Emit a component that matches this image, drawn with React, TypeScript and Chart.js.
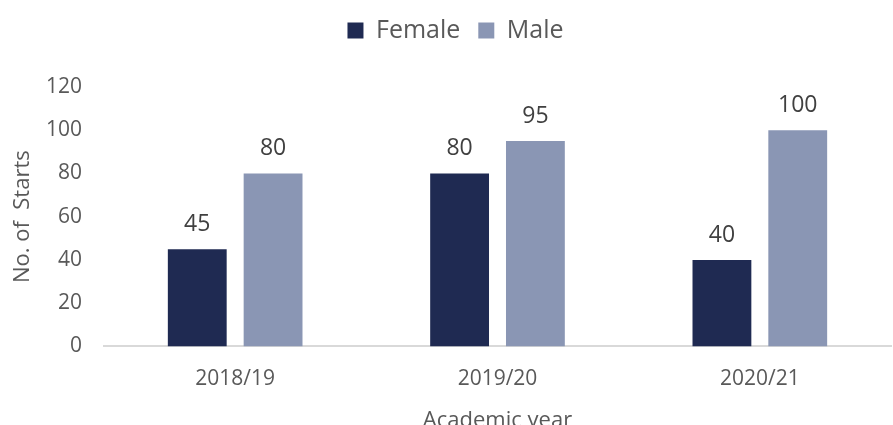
import React, { useEffect, useRef } from "react";
import { Chart, registerables } from "chart.js";

Chart.register(...registerables);

const categories = ["2018/19", "2019/20", "2020/21"];
const femaleValues = [45, 80, 40];
const maleValues = [80, 95, 100];
const seriesNames = ["Female", "Male"];
const yTicks = [0, 20, 40, 60, 80, 100, 120];

const FONT = "'Open Sans', 'Liberation Sans', sans-serif";
const TEXT = "#595959";

const valueLabels = {
  id: "valueLabels",
  afterDatasetsDraw(chart: any) {
    const ctx = chart.ctx;
    ctx.save();
    ctx.font = `23px ${FONT}`;
    ctx.fillStyle = "#404040";
    ctx.textAlign = "center";
    ctx.textBaseline = "alphabetic";
    chart.data.datasets.forEach((ds: any, i: number) => {
      const meta = chart.getDatasetMeta(i);
      meta.data.forEach((bar: any, j: number) => {
        ctx.fillText(String(ds.data[j]), bar.x, bar.y - 18);
      });
    });
    ctx.restore();
  },
};

const legendSpacer = {
  id: "legendSpacer",
  beforeLayout(chart: any) {
    const lg = chart.legend;
    if (lg && !lg._spacerPatched) {
      const orig = lg.fit;
      lg.fit = function () {
        orig.call(this);
        this.height += 34;
      };
      lg._spacerPatched = true;
    }
  },
  afterLayout(chart: any) {
    const lg = chart.legend;
    if (lg) {
      lg.left += 10;
      lg.right += 10;
      if (lg.adjustHitBoxes) lg.adjustHitBoxes();
    }
  },
};

export default function App() {
  const ref = useRef<HTMLCanvasElement | null>(null);
  useEffect(() => {
    if (!ref.current) return;
    const chart = new Chart(ref.current, {
      type: "bar",
      data: {
        labels: categories,
        datasets: [
          { label: seriesNames[0], data: femaleValues, backgroundColor: "#1F2A52" },
          { label: seriesNames[1], data: maleValues, backgroundColor: "#8A96B4" },
        ],
      },
      options: {
        animation: false,
        responsive: false,
        maintainAspectRatio: false,
        layout: { padding: { left: 0, right: 2, top: 0, bottom: 0 } },
        datasets: { bar: { categoryPercentage: 0.578, barPercentage: 0.776 } },
        plugins: {
          legend: {
            position: "top",
            labels: {
              font: { family: FONT, size: 25 },
              color: TEXT,
              boxWidth: 16,
              boxHeight: 16,
              padding: 18,
            },
          },
          tooltip: { enabled: false },
        },
        scales: {
          x: {
            grid: { display: false, drawTicks: false },
            border: { display: true, color: "#D9D9D9", width: 2 },
            ticks: { font: { family: FONT, size: 21 }, color: TEXT, padding: 20 },
            title: {
              display: true,
              text: "Academic year",
              font: { family: FONT, size: 22 },
              color: TEXT,
              padding: { top: -4, bottom: 0 },
            },
          },
          y: {
            min: 0,
            max: 120,
            grid: { display: false, drawTicks: false },
            border: { display: false },
            afterBuildTicks: (scale: any) => {
              scale.ticks = yTicks.map((v) => ({ value: v }));
            },
            afterFit: (scale: any) => {
              scale.width = 104;
            },
            ticks: { font: { family: FONT, size: 21 }, color: TEXT, padding: 22 },
            title: {
              display: true,
              text: "No. of  Starts",
              font: { family: FONT, size: 22 },
              color: TEXT,
              padding: { top: 10, bottom: 0 },
            },
          },
        },
      },
      plugins: [legendSpacer, valueLabels],
    });
    return () => chart.destroy();
  }, []);
  return (
    <div style={{ position: "fixed", left: 0, top: 0, width: 893, height: 425, overflow: "hidden", background: "#fff" }}>
      <canvas ref={ref} width={893} height={434} style={{ display: "block" }} />
    </div>
  );
}
